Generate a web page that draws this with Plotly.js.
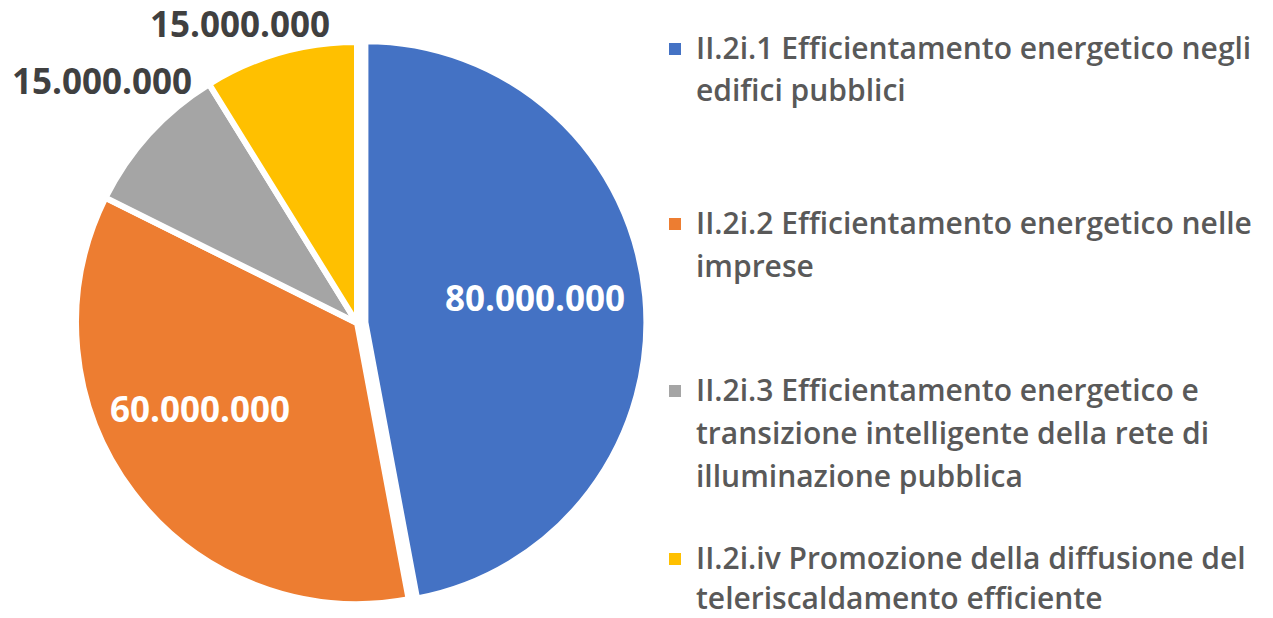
<!DOCTYPE html>
<html>
<head>
<meta charset="utf-8">
<script src="https://cdn.plot.ly/plotly-3.0.1.min.js"></script>
<style>html,body{margin:0;padding:0;background:#fff;}#chart{width:1273px;height:618px;}</style>
</head>
<body>
<div id="chart"></div>
<script>
// ---- data ----
const labels = [
  "II.2i.1 Efficientamento energetico negli<br>edifici pubblici",
  "II.2i.2 Efficientamento energetico nelle<br>imprese",
  "II.2i.3 Efficientamento energetico e<br>transizione intelligente della rete di<br>illuminazione pubblica",
  "II.2i.iv Promozione della diffusione del<br>teleriscaldamento efficiente"
];
const values = [80000000, 60000000, 15000000, 15000000];
const colors = ["#4472C4", "#ED7D31", "#A5A5A5", "#FFC000"];
const pulls = [0.03, 0, 0, 0];

// ---- layout helpers ----
const W = 1273, H = 618;
const legendX = 695, squareX = 669, squareSize = 12;
const itemLines = [[47, 90], [222, 265], [389, 432, 475], [557, 597]];
// value-label placement (pixels) and colours
const valuePos = [[535, 298], [200, 408], [102, 80], [240, 23]];
const valueColors = ["#ffffff", "#ffffff", "#404040", "#404040"];

function fmt(v) { return String(v).replace(/\B(?=(\d{3})+(?!\d))/g, "."); }

const annotations = [];
const shapes = [];
labels.forEach((lab, i) => {
  const lines = lab.split("<br>");
  lines.forEach((ln, j) => {
    annotations.push({
      xref: "paper", yref: "paper",
      x: legendX / W, y: 1 - itemLines[i][j] / H,
      xanchor: "left", yanchor: "middle", borderpad: 0,
      text: ln, showarrow: false,
      font: {family: "Open Sans", size: 30, color: "#595959", weight: 600}
    });
  });
  const cy = itemLines[i][0] + 2;
  shapes.push({
    type: "rect", xref: "paper", yref: "paper",
    x0: squareX / W, x1: (squareX + squareSize) / W,
    y0: 1 - (cy - squareSize / 2) / H, y1: 1 - (cy + squareSize / 2) / H,
    fillcolor: colors[i], line: {width: 0}
  });
});
values.forEach((v, i) => {
  annotations.push({
    xref: "paper", yref: "paper",
    x: valuePos[i][0] / W, y: 1 - valuePos[i][1] / H,
    xanchor: "center", yanchor: "middle",
    text: fmt(v), showarrow: false,
    font: {family: "Open Sans", size: 35, color: valueColors[i], weight: "bold"}
  });
});

const trace = {
  type: "pie",
  labels: labels,
  values: values,
  sort: false,
  direction: "clockwise",
  rotation: 0,
  pull: pulls,
  marker: {colors: colors, line: {color: "#ffffff", width: 6}},
  textinfo: "none",
  domain: {x: [0.0531, 0.5078], y: [0.0058, 0.9489]},
  showlegend: false,
  hoverinfo: "label+value"
};

const layout = {
  width: W, height: H,
  margin: {l: 0, r: 0, t: 0, b: 0},
  paper_bgcolor: "#ffffff",
  separators: ",.",
  showlegend: false,
  annotations: annotations,
  shapes: shapes
};

Plotly.newPlot("chart", [trace], layout, {displayModeBar: false, staticPlot: true});
</script>
</body>
</html>
